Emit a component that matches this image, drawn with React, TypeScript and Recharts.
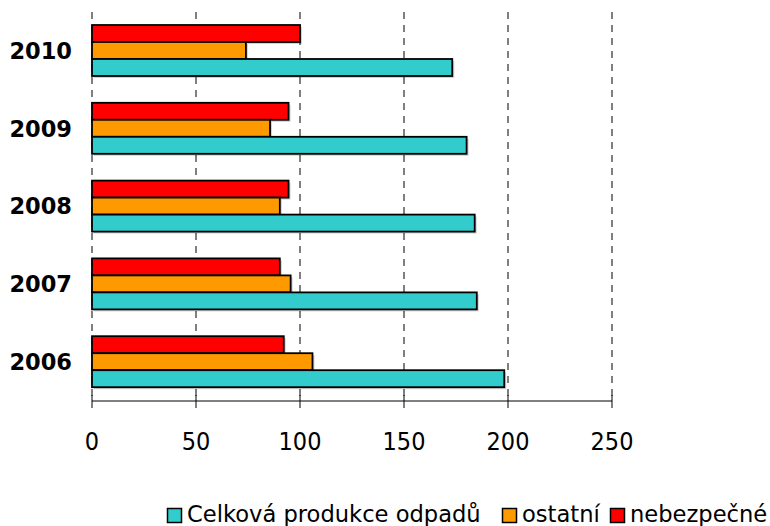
import React from "react";
import { Bar, BarChart, CartesianGrid, Legend, XAxis, YAxis } from "recharts";

const years = ["2010", "2009", "2008", "2007", "2006"];
const nebezpecne = [100, 94.5, 94.5, 90.3, 92.2];
const ostatni = [74, 85.6, 90.3, 95.5, 106];
const celkova = [173.2, 180.1, 184, 185, 198.2];
const xTicks = [0, 50, 100, 150, 200, 250];

const data = years.map((year, i) => ({
  year,
  nebezpecne: nebezpecne[i],
  ostatni: ostatni[i],
  celkova: celkova[i],
}));

const legendItems = [
  { label: "Celková produkce odpadů", color: "#33CCCC", x: 167 },
  { label: "ostatní", color: "#FF9900", x: 502 },
  { label: "nebezpečné", color: "#FF0000", x: 610 },
];

function ShadowBar(props: any) {
  const { x, y, width, height, fill } = props;
  if (!width || width <= 0) return null;
  return (
    <g>
      <rect x={x + 2} y={y + 2} width={width} height={height} fill="#000" opacity={0.18} />
      <rect x={x} y={y} width={width} height={height} fill={fill} stroke="#000" strokeWidth={1.8} />
    </g>
  );
}

function XTick(props: any) {
  const { x, y, payload } = props;
  const axisY = y - 30;
  return (
    <g>
      <line x1={x} x2={x} y1={axisY - 6} y2={axisY + 7} stroke="#000" strokeWidth={1} />
      <text x={x} y={y + 19} textAnchor="middle" fill="#000" fontSize={25} fontFamily="'DejaVu Sans Condensed', 'DejaVu Sans', sans-serif">
        {payload.value}
      </text>
    </g>
  );
}

function LegendContent() {
  return (
    <svg width={770} height={36} style={{ display: "block" }}>
      {legendItems.map((item) => (
        <g key={item.label}>
          <rect x={item.x + 0.5} y={18.5} width={14} height={14} fill={item.color} stroke="#000" strokeWidth={1.5} />
          <text x={item.x + 20} y={32} fill="#000" fontSize={22.6} fontFamily="'DejaVu Sans', sans-serif">
            {item.label}
          </text>
        </g>
      ))}
    </svg>
  );
}

export default function App() {
  return (
    <div style={{ position: "absolute", left: 0, top: 0, width: 770, height: 526, background: "#fff" }}>
      <BarChart
        width={770}
        height={526}
        data={data}
        layout="vertical"
        margin={{ top: 12, right: 158, bottom: 0, left: 0 }}
        barSize={17}
        barGap={0}
      >
        <CartesianGrid horizontal={false} stroke="#000" strokeDasharray="7 6" strokeWidth={1} />
        <XAxis
          type="number"
          domain={[0, 250]}
          ticks={xTicks}
          height={89}
          axisLine={{ stroke: "#000", strokeWidth: 1 }}
          tickLine={false}
          tickSize={8}
          tickMargin={22}
          tick={<XTick />}
          interval={0}
        />
        <YAxis
          type="category"
          dataKey="year"
          width={92}
          axisLine={false}
          tickLine={false}
          tickSize={0}
          tickMargin={20}
          tick={{ fill: "#000", fontSize: 22.5, fontWeight: "bold", fontFamily: "'DejaVu Sans', sans-serif" }}
        />
        <Legend
          verticalAlign="bottom"
          height={36}
          wrapperStyle={{ left: 0, bottom: 0, width: 770, height: 36 }}
          content={<LegendContent />}
        />
        <Bar dataKey="nebezpecne" name="nebezpečné" fill="#FF0000" shape={<ShadowBar />} isAnimationActive={false} />
        <Bar dataKey="ostatni" name="ostatní" fill="#FF9900" shape={<ShadowBar />} isAnimationActive={false} />
        <Bar dataKey="celkova" name="Celková produkce odpadů" fill="#33CCCC" shape={<ShadowBar />} isAnimationActive={false} />
      </BarChart>
    </div>
  );
}
